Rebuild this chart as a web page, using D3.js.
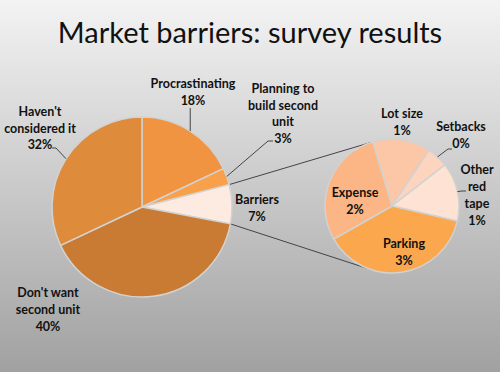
<!DOCTYPE html>
<html>
<head>
<meta charset="utf-8">
<script src="https://cdn.jsdelivr.net/npm/d3@7"></script>
<style>
html,body{margin:0;padding:0;}
body{width:500px;height:372px;overflow:hidden;}
text{font-family:Lato,"Open Sans",sans-serif;}
</style>
</head>
<body>
<svg id="chart" width="500" height="372"></svg>
<script>
// ---- Data ----
const mainCategories = ["Procrastinating", "Planning to build second unit", "Barriers", "Don't want second unit", "Haven't considered it"];
const mainValues = [18, 3, 7, 40, 32];
const mainLabels = [["Procrastinating", "18%"], ["Planning to", "build second", "unit", "3%"], ["Barriers", "7%"], ["Don't want", "second unit", "40%"], ["Haven't", "considered it", "32%"]];

const subCategories = ["Lot size", "Setbacks", "Other red tape", "Parking", "Expense"];
const subValues = [0.98, 0.36, 0.99, 2.67, 2.0];
const subLabels = [["Lot size", "1%"], ["Setbacks", "0%"], ["Other", "red", "tape", "1%"], ["Parking", "3%"], ["Expense", "2%"]];

const title = "Market barriers: survey results";

// ---- Styles / layout ----
const mainColors = ["#F09441", "#F9A04B", "#FDEBE1", "#C97B34", "#DE8B3B"];
const subColors = ["#FCC7A6", "#FDD4BD", "#FEE2D3", "#FBA74D", "#FCB584"];
const deg = Math.PI / 180;

const svg = d3.select("#chart");
const defs = svg.append("defs");
const grad = defs.append("linearGradient").attr("id", "bg").attr("x1", 0).attr("y1", 0).attr("x2", 0).attr("y2", 1);
grad.append("stop").attr("offset", "0%").attr("stop-color", "#f3f3f3");
grad.append("stop").attr("offset", "100%").attr("stop-color", "#a1a1a1");
svg.append("rect").attr("width", 500).attr("height", 372).attr("fill", "url(#bg)");

svg.append("text").attr("x", 250).attr("y", 43).attr("text-anchor", "middle")
  .attr("font-size", 29).attr("fill", "#111").text(title);

const main = {cx: 142, cy: 207, r: 90};
const sub = {cx: 392, cy: 206, r: 67};

const pieMain = d3.pie().sort(null).value(d => d).startAngle(0).endAngle(2 * Math.PI);
const pieSub = d3.pie().sort(null).value(d => d).startAngle(-16.8 * deg).endAngle(343.2 * deg);

const arcMain = d3.arc().innerRadius(0).outerRadius(main.r);
const arcSub = d3.arc().innerRadius(0).outerRadius(sub.r);

const mainArcs = pieMain(mainValues);
const subArcs = pieSub(subValues);

function pt(c, r, a) { return [c.cx + r * Math.sin(a), c.cy - r * Math.cos(a)]; }

// connector lines
const bar = mainArcs[2];
const p1 = pt(main, main.r, bar.startAngle), p2 = pt(main, main.r, bar.endAngle);
const q1 = pt(sub, sub.r, -19 * deg), q2 = pt(sub, sub.r, 197 * deg);
svg.append("line").attr("x1", p1[0]).attr("y1", p1[1]).attr("x2", q1[0]).attr("y2", q1[1]).attr("stroke", "#444").attr("stroke-width", 1);
svg.append("line").attr("x1", p2[0]).attr("y1", p2[1]).attr("x2", q2[0]).attr("y2", q2[1]).attr("stroke", "#444").attr("stroke-width", 1);

svg.append("g").attr("transform", `translate(${main.cx},${main.cy})`)
  .selectAll("path").data(mainArcs).join("path")
  .attr("d", arcMain).attr("fill", (d, i) => mainColors[i])
  .attr("stroke", "#d2d2d2").attr("stroke-width", 1.5).attr("stroke-linejoin", "round");

svg.append("g").attr("transform", `translate(${sub.cx},${sub.cy})`)
  .selectAll("path").data(subArcs).join("path")
  .attr("d", arcSub).attr("fill", (d, i) => subColors[i])
  .attr("stroke", "#d2d2d2").attr("stroke-width", 1.5).attr("stroke-linejoin", "round");

// label layout: center x, first line center y
const mainLabelPos = [[193, 83.5], [283, 88.5], [257, 199.5], [48, 293], [40, 111.5]];
const subLabelPos = [[402, 113.5], [461, 127], [477, 170], [404, 243.5], [355, 193]];
const lineH = 16.8;

function drawLabels(lines, pos) {
  lines.forEach((ls, i) => {
    const t = svg.append("text").attr("text-anchor", "middle").attr("font-size", 12.5)
      .attr("font-weight", "bold").attr("fill", "#111");
    ls.forEach((s, j) => {
      t.append("tspan").attr("x", pos[i][0]).attr("y", pos[i][1] + j * lineH).attr("dy", "0.35em").text(s);
    });
  });
}
drawLabels(mainLabels, mainLabelPos);
drawLabels(subLabels, subLabelPos);

// leader lines
function leader(c, arcD, pts) {
  const m = (arcD.startAngle + arcD.endAngle) / 2;
  const s = pt(c, c.r, m);
  svg.append("polyline").attr("points", [s].concat(pts).map(p => p.join(",")).join(" "))
    .attr("fill", "none").attr("stroke", "#444").attr("stroke-width", 1);
}
leader(main, mainArcs[0], [[pt(main, main.r, (mainArcs[0].startAngle + mainArcs[0].endAngle) / 2)[0], 108]]);
leader(main, mainArcs[1], [[268, 141], [273, 141]]);
leader(main, mainArcs[4], [[56, 148], [52, 148]]);
leader(sub, subArcs[1], [[448, 149], [452, 149]]);
leader(sub, subArcs[2], [[462, 191], [466, 191]]);
</script>
</body>
</html>
